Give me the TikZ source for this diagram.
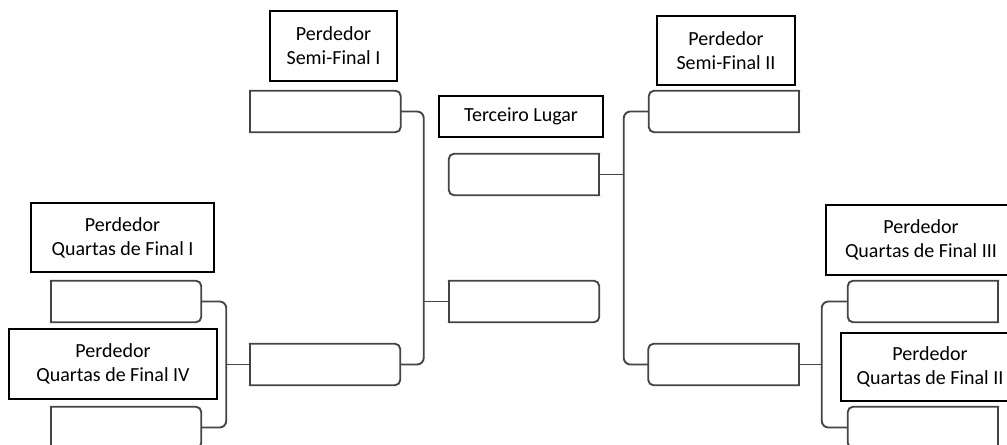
\documentclass[tikz,border=0pt]{standalone}
\usepackage{fontspec}
\setmainfont{Carlito}

\definecolor{slotgray}{HTML}{444444}

\tikzset{
  slot/.style={minimum width=112.5pt, minimum height=30.75pt, inner sep=0pt},
  slotline/.style={draw=slotgray, line width=1.4pt, line cap=rect},
  titlebox/.style={draw=black, line width=1pt, align=center, inner sep=0pt,
    font=\fontsize{15}{18}\selectfont},
  link/.style={draw=slotgray, line width=1.4pt, rounded corners=5pt}
}

% slot rounded on the right side / on the left side
\newcommand{\slotR}[1]{%
  \draw[slotline, rounded corners=4pt] (#1.north west) -- (#1.north east) -- (#1.south east) -- (#1.south west);
  \draw[slotline] (#1.south west) -- (#1.north west);}
\newcommand{\slotL}[1]{%
  \draw[slotline, rounded corners=4pt] (#1.north east) -- (#1.north west) -- (#1.south west) -- (#1.south east);
  \draw[slotline] (#1.south east) -- (#1.north east);}

\begin{document}
\begin{tikzpicture}[x=0.75pt, y=-0.75pt]
    \useasboundingbox (0,0) rectangle (1007,445);

    % Titles
    \node[titlebox, minimum width=95.25pt, minimum height=52.5pt] (tsf1) at (333.5,46) {Perdedor\\Semi-Final I};
    \node[titlebox, minimum width=103.5pt, minimum height=51.75pt] (tsf2) at (726,50.5) {Perdedor\\Semi-Final II};
    \node[titlebox, minimum width=123pt, minimum height=30.75pt] (third) at (521,116.5) {Terceiro Lugar};
    \node[titlebox, minimum width=137.25pt, minimum height=51.75pt] (tqf1) at (122.5,237.5) {Perdedor\\Quartas de Final I};
    \node[titlebox, minimum width=156pt, minimum height=52.5pt] (tqf4) at (113,364) {Perdedor\\Quartas de Final IV};
    \node[titlebox, minimum width=142.5pt, minimum height=52.5pt] (tqf3) at (921,240) {Perdedor\\Quartas de Final III};
    \node[titlebox, minimum width=133.5pt, minimum height=51pt] (tqf2) at (930,367) {Perdedor\\Quartas de Final II};

    % Left side
    \node[slot] (qf1) at (126,301.5) {};
    \node[slot] (qf4) at (126,427.5) {};
    \node[slot] (sf1) at (325.5,111.5) {};
    \node[slot] (sf4) at (325,364.5) {};
    \slotR{qf1} \slotR{qf4} \slotR{sf1} \slotR{sf4}

    % Center
    \node[slot] (mid1) at (524,174.5) {};
    \node[slot] (mid2) at (524,301.5) {};
    \slotL{mid1} \slotR{mid2}

    % Right side
    \node[slot] (sf2) at (724,111.5) {};
    \node[slot] (sf3) at (723.5,364.5) {};
    \node[slot] (qf3) at (923,301.5) {};
    \node[slot] (qf2) at (923,427.5) {};
    \slotL{sf2} \slotL{sf3} \slotL{qf3} \slotL{qf2}

    % Brackets
    \draw[link] (qf1.east) -- ++(25,0) |- (qf4.east);
    \draw[link] (sf4.west) -- ++(-24,0);
    \draw[link] (sf1.east) -- ++(23,0) |- (sf4.east);
    \draw[link] (mid2.west) -- ++(-25,0);
    \draw[link] (sf2.west) -- ++(-25,0) |- (sf3.west);
    \draw[link] (mid1.east) -- ++(24,0);
    \draw[link] (qf3.west) -- ++(-26,0) |- (qf2.west);
    \draw[link] (sf3.east) -- ++(23,0);
\end{tikzpicture}
\end{document}
